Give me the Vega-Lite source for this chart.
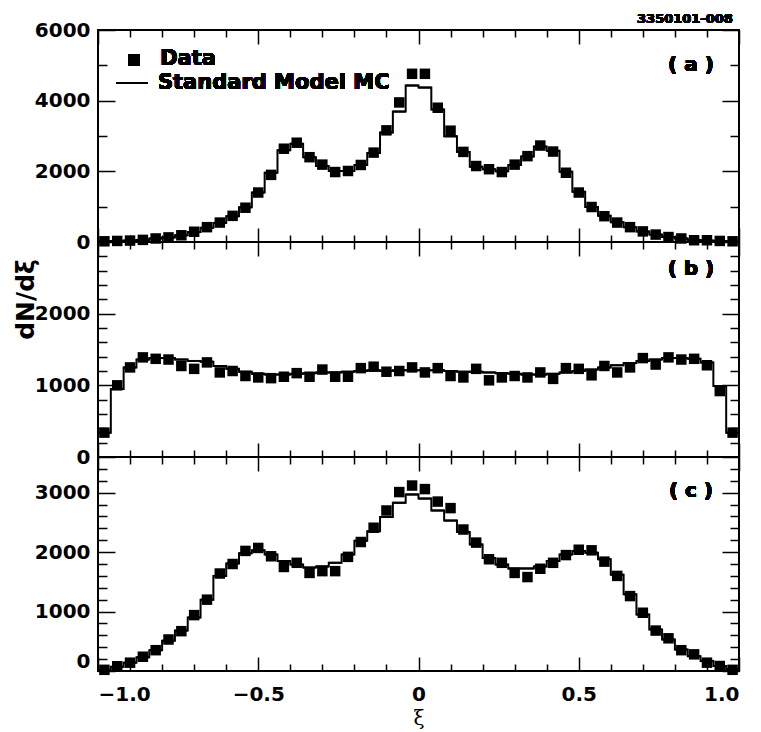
{
  "$schema": "https://vega.github.io/schema/vega-lite/v6.json",
  "padding": {"left": 12, "top": 11, "right": 5, "bottom": 0},
  "background": "white",
  "datasets": {
    "a": [
      {"xi": -0.98, "lo": -1.00, "hi": -0.96, "data": 20, "mc": 20},
      {"xi": -0.94, "lo": -0.96, "hi": -0.92, "data": 30, "mc": 30},
      {"xi": -0.90, "lo": -0.92, "hi": -0.88, "data": 40, "mc": 40},
      {"xi": -0.86, "lo": -0.88, "hi": -0.84, "data": 60, "mc": 60},
      {"xi": -0.82, "lo": -0.84, "hi": -0.80, "data": 100, "mc": 100},
      {"xi": -0.78, "lo": -0.80, "hi": -0.76, "data": 130, "mc": 130},
      {"xi": -0.74, "lo": -0.76, "hi": -0.72, "data": 190, "mc": 190},
      {"xi": -0.70, "lo": -0.72, "hi": -0.68, "data": 290, "mc": 280},
      {"xi": -0.66, "lo": -0.68, "hi": -0.64, "data": 420, "mc": 400},
      {"xi": -0.62, "lo": -0.64, "hi": -0.60, "data": 550, "mc": 540},
      {"xi": -0.58, "lo": -0.60, "hi": -0.56, "data": 740, "mc": 730},
      {"xi": -0.54, "lo": -0.56, "hi": -0.52, "data": 970, "mc": 980},
      {"xi": -0.50, "lo": -0.52, "hi": -0.48, "data": 1400, "mc": 1400},
      {"xi": -0.46, "lo": -0.48, "hi": -0.44, "data": 1900, "mc": 1960},
      {"xi": -0.42, "lo": -0.44, "hi": -0.40, "data": 2640, "mc": 2600},
      {"xi": -0.38, "lo": -0.40, "hi": -0.36, "data": 2810, "mc": 2780},
      {"xi": -0.34, "lo": -0.36, "hi": -0.32, "data": 2400, "mc": 2400},
      {"xi": -0.30, "lo": -0.32, "hi": -0.28, "data": 2190, "mc": 2150},
      {"xi": -0.26, "lo": -0.28, "hi": -0.24, "data": 1980, "mc": 2010},
      {"xi": -0.22, "lo": -0.24, "hi": -0.20, "data": 2010, "mc": 2010},
      {"xi": -0.18, "lo": -0.20, "hi": -0.16, "data": 2180, "mc": 2180},
      {"xi": -0.14, "lo": -0.16, "hi": -0.12, "data": 2530, "mc": 2520},
      {"xi": -0.10, "lo": -0.12, "hi": -0.08, "data": 3160, "mc": 3100},
      {"xi": -0.06, "lo": -0.08, "hi": -0.04, "data": 3950, "mc": 3690},
      {"xi": -0.02, "lo": -0.04, "hi": 0.00, "data": 4760, "mc": 4430},
      {"xi": 0.02, "lo": 0.00, "hi": 0.04, "data": 4760, "mc": 4370},
      {"xi": 0.06, "lo": 0.04, "hi": 0.08, "data": 3800, "mc": 3750},
      {"xi": 0.10, "lo": 0.08, "hi": 0.12, "data": 3150, "mc": 2990},
      {"xi": 0.14, "lo": 0.12, "hi": 0.16, "data": 2550, "mc": 2550},
      {"xi": 0.18, "lo": 0.16, "hi": 0.20, "data": 2150, "mc": 2130},
      {"xi": 0.22, "lo": 0.20, "hi": 0.24, "data": 2060, "mc": 2060},
      {"xi": 0.26, "lo": 0.24, "hi": 0.28, "data": 1980, "mc": 2000},
      {"xi": 0.30, "lo": 0.28, "hi": 0.32, "data": 2190, "mc": 2180},
      {"xi": 0.34, "lo": 0.32, "hi": 0.36, "data": 2430, "mc": 2420},
      {"xi": 0.38, "lo": 0.36, "hi": 0.40, "data": 2730, "mc": 2700},
      {"xi": 0.42, "lo": 0.40, "hi": 0.44, "data": 2560, "mc": 2580},
      {"xi": 0.46, "lo": 0.44, "hi": 0.48, "data": 1960, "mc": 1990},
      {"xi": 0.50, "lo": 0.48, "hi": 0.52, "data": 1400, "mc": 1420},
      {"xi": 0.54, "lo": 0.52, "hi": 0.56, "data": 990, "mc": 990},
      {"xi": 0.58, "lo": 0.56, "hi": 0.60, "data": 730, "mc": 740},
      {"xi": 0.62, "lo": 0.60, "hi": 0.64, "data": 550, "mc": 560},
      {"xi": 0.66, "lo": 0.64, "hi": 0.68, "data": 420, "mc": 420},
      {"xi": 0.70, "lo": 0.68, "hi": 0.72, "data": 300, "mc": 300},
      {"xi": 0.74, "lo": 0.72, "hi": 0.76, "data": 210, "mc": 210},
      {"xi": 0.78, "lo": 0.76, "hi": 0.80, "data": 140, "mc": 140},
      {"xi": 0.82, "lo": 0.80, "hi": 0.84, "data": 100, "mc": 100},
      {"xi": 0.86, "lo": 0.84, "hi": 0.88, "data": 50, "mc": 60},
      {"xi": 0.90, "lo": 0.88, "hi": 0.92, "data": 50, "mc": 40},
      {"xi": 0.94, "lo": 0.92, "hi": 0.96, "data": 30, "mc": 30},
      {"xi": 0.98, "lo": 0.96, "hi": 1.00, "data": 20, "mc": 20}
    ],
    "b": [
      {"xi": -0.98, "lo": -1.00, "hi": -0.96, "data": 340, "mc": 340},
      {"xi": -0.94, "lo": -0.96, "hi": -0.92, "data": 1000, "mc": 950},
      {"xi": -0.90, "lo": -0.92, "hi": -0.88, "data": 1250, "mc": 1250},
      {"xi": -0.86, "lo": -0.88, "hi": -0.84, "data": 1390, "mc": 1360},
      {"xi": -0.82, "lo": -0.84, "hi": -0.80, "data": 1370, "mc": 1380},
      {"xi": -0.78, "lo": -0.80, "hi": -0.76, "data": 1360, "mc": 1380},
      {"xi": -0.74, "lo": -0.76, "hi": -0.72, "data": 1270, "mc": 1360},
      {"xi": -0.70, "lo": -0.72, "hi": -0.68, "data": 1230, "mc": 1340},
      {"xi": -0.66, "lo": -0.68, "hi": -0.64, "data": 1320, "mc": 1330},
      {"xi": -0.62, "lo": -0.64, "hi": -0.60, "data": 1180, "mc": 1270},
      {"xi": -0.58, "lo": -0.60, "hi": -0.56, "data": 1200, "mc": 1230},
      {"xi": -0.54, "lo": -0.56, "hi": -0.52, "data": 1130, "mc": 1190},
      {"xi": -0.50, "lo": -0.52, "hi": -0.48, "data": 1110, "mc": 1160},
      {"xi": -0.46, "lo": -0.48, "hi": -0.44, "data": 1100, "mc": 1150},
      {"xi": -0.42, "lo": -0.44, "hi": -0.40, "data": 1120, "mc": 1150},
      {"xi": -0.38, "lo": -0.40, "hi": -0.36, "data": 1170, "mc": 1160},
      {"xi": -0.34, "lo": -0.36, "hi": -0.32, "data": 1120, "mc": 1170},
      {"xi": -0.30, "lo": -0.32, "hi": -0.28, "data": 1220, "mc": 1180},
      {"xi": -0.26, "lo": -0.28, "hi": -0.24, "data": 1120, "mc": 1180},
      {"xi": -0.22, "lo": -0.24, "hi": -0.20, "data": 1120, "mc": 1190},
      {"xi": -0.18, "lo": -0.20, "hi": -0.16, "data": 1240, "mc": 1200},
      {"xi": -0.14, "lo": -0.16, "hi": -0.12, "data": 1260, "mc": 1210},
      {"xi": -0.10, "lo": -0.12, "hi": -0.08, "data": 1190, "mc": 1200},
      {"xi": -0.06, "lo": -0.08, "hi": -0.04, "data": 1200, "mc": 1210},
      {"xi": -0.02, "lo": -0.04, "hi": 0.00, "data": 1250, "mc": 1210},
      {"xi": 0.02, "lo": 0.00, "hi": 0.04, "data": 1180, "mc": 1210},
      {"xi": 0.06, "lo": 0.04, "hi": 0.08, "data": 1240, "mc": 1210},
      {"xi": 0.10, "lo": 0.08, "hi": 0.12, "data": 1130, "mc": 1200},
      {"xi": 0.14, "lo": 0.12, "hi": 0.16, "data": 1110, "mc": 1190},
      {"xi": 0.18, "lo": 0.16, "hi": 0.20, "data": 1230, "mc": 1190},
      {"xi": 0.22, "lo": 0.20, "hi": 0.24, "data": 1070, "mc": 1180},
      {"xi": 0.26, "lo": 0.24, "hi": 0.28, "data": 1110, "mc": 1170},
      {"xi": 0.30, "lo": 0.28, "hi": 0.32, "data": 1130, "mc": 1160},
      {"xi": 0.34, "lo": 0.32, "hi": 0.36, "data": 1110, "mc": 1150},
      {"xi": 0.38, "lo": 0.36, "hi": 0.40, "data": 1180, "mc": 1150},
      {"xi": 0.42, "lo": 0.40, "hi": 0.44, "data": 1090, "mc": 1160},
      {"xi": 0.46, "lo": 0.44, "hi": 0.48, "data": 1240, "mc": 1180},
      {"xi": 0.50, "lo": 0.48, "hi": 0.52, "data": 1230, "mc": 1200},
      {"xi": 0.54, "lo": 0.52, "hi": 0.56, "data": 1140, "mc": 1220},
      {"xi": 0.58, "lo": 0.56, "hi": 0.60, "data": 1270, "mc": 1250},
      {"xi": 0.62, "lo": 0.60, "hi": 0.64, "data": 1180, "mc": 1280},
      {"xi": 0.66, "lo": 0.64, "hi": 0.68, "data": 1250, "mc": 1310},
      {"xi": 0.70, "lo": 0.68, "hi": 0.72, "data": 1380, "mc": 1340},
      {"xi": 0.74, "lo": 0.72, "hi": 0.76, "data": 1290, "mc": 1360},
      {"xi": 0.78, "lo": 0.76, "hi": 0.80, "data": 1390, "mc": 1380},
      {"xi": 0.82, "lo": 0.80, "hi": 0.84, "data": 1360, "mc": 1380},
      {"xi": 0.86, "lo": 0.84, "hi": 0.88, "data": 1370, "mc": 1370},
      {"xi": 0.90, "lo": 0.88, "hi": 0.92, "data": 1280, "mc": 1320},
      {"xi": 0.94, "lo": 0.92, "hi": 0.96, "data": 920, "mc": 990},
      {"xi": 0.98, "lo": 0.96, "hi": 1.00, "data": 340, "mc": 340}
    ],
    "c": [
      {"xi": -0.98, "lo": -1.00, "hi": -0.96, "data": 20, "mc": 20},
      {"xi": -0.94, "lo": -0.96, "hi": -0.92, "data": 80, "mc": 70},
      {"xi": -0.90, "lo": -0.92, "hi": -0.88, "data": 140, "mc": 140},
      {"xi": -0.86, "lo": -0.88, "hi": -0.84, "data": 240, "mc": 230},
      {"xi": -0.82, "lo": -0.84, "hi": -0.80, "data": 350, "mc": 350},
      {"xi": -0.78, "lo": -0.80, "hi": -0.76, "data": 530, "mc": 510},
      {"xi": -0.74, "lo": -0.76, "hi": -0.72, "data": 670, "mc": 680},
      {"xi": -0.70, "lo": -0.72, "hi": -0.68, "data": 940, "mc": 900},
      {"xi": -0.66, "lo": -0.68, "hi": -0.64, "data": 1200, "mc": 1200},
      {"xi": -0.62, "lo": -0.64, "hi": -0.60, "data": 1640, "mc": 1600},
      {"xi": -0.58, "lo": -0.60, "hi": -0.56, "data": 1800, "mc": 1810},
      {"xi": -0.54, "lo": -0.56, "hi": -0.52, "data": 2020, "mc": 1980},
      {"xi": -0.50, "lo": -0.52, "hi": -0.48, "data": 2070, "mc": 2030},
      {"xi": -0.46, "lo": -0.48, "hi": -0.44, "data": 1930, "mc": 1960},
      {"xi": -0.42, "lo": -0.44, "hi": -0.40, "data": 1750, "mc": 1850},
      {"xi": -0.38, "lo": -0.40, "hi": -0.36, "data": 1820, "mc": 1790},
      {"xi": -0.34, "lo": -0.36, "hi": -0.32, "data": 1650, "mc": 1740},
      {"xi": -0.30, "lo": -0.32, "hi": -0.28, "data": 1680, "mc": 1760},
      {"xi": -0.26, "lo": -0.28, "hi": -0.24, "data": 1680, "mc": 1820},
      {"xi": -0.22, "lo": -0.24, "hi": -0.20, "data": 1920, "mc": 1960},
      {"xi": -0.18, "lo": -0.20, "hi": -0.16, "data": 2170, "mc": 2190},
      {"xi": -0.14, "lo": -0.16, "hi": -0.12, "data": 2410, "mc": 2350},
      {"xi": -0.10, "lo": -0.12, "hi": -0.08, "data": 2700, "mc": 2590},
      {"xi": -0.06, "lo": -0.08, "hi": -0.04, "data": 3010, "mc": 2830},
      {"xi": -0.02, "lo": -0.04, "hi": 0.00, "data": 3120, "mc": 2970},
      {"xi": 0.02, "lo": 0.00, "hi": 0.04, "data": 3060, "mc": 2900},
      {"xi": 0.06, "lo": 0.04, "hi": 0.08, "data": 2850, "mc": 2700},
      {"xi": 0.10, "lo": 0.08, "hi": 0.12, "data": 2740, "mc": 2530},
      {"xi": 0.14, "lo": 0.12, "hi": 0.16, "data": 2380, "mc": 2340},
      {"xi": 0.18, "lo": 0.16, "hi": 0.20, "data": 2160, "mc": 2130},
      {"xi": 0.22, "lo": 0.20, "hi": 0.24, "data": 1880, "mc": 1900},
      {"xi": 0.26, "lo": 0.24, "hi": 0.28, "data": 1820, "mc": 1790},
      {"xi": 0.30, "lo": 0.28, "hi": 0.32, "data": 1650, "mc": 1725},
      {"xi": 0.34, "lo": 0.32, "hi": 0.36, "data": 1580, "mc": 1725},
      {"xi": 0.38, "lo": 0.36, "hi": 0.40, "data": 1720, "mc": 1760},
      {"xi": 0.42, "lo": 0.40, "hi": 0.44, "data": 1820, "mc": 1850},
      {"xi": 0.46, "lo": 0.44, "hi": 0.48, "data": 1950, "mc": 1960},
      {"xi": 0.50, "lo": 0.48, "hi": 0.52, "data": 2040, "mc": 2020},
      {"xi": 0.54, "lo": 0.52, "hi": 0.56, "data": 2030, "mc": 1990},
      {"xi": 0.58, "lo": 0.56, "hi": 0.60, "data": 1840, "mc": 1880},
      {"xi": 0.62, "lo": 0.60, "hi": 0.64, "data": 1600, "mc": 1620},
      {"xi": 0.66, "lo": 0.64, "hi": 0.68, "data": 1260, "mc": 1290},
      {"xi": 0.70, "lo": 0.68, "hi": 0.72, "data": 980, "mc": 950},
      {"xi": 0.74, "lo": 0.72, "hi": 0.76, "data": 680, "mc": 700},
      {"xi": 0.78, "lo": 0.76, "hi": 0.80, "data": 550, "mc": 530},
      {"xi": 0.82, "lo": 0.80, "hi": 0.84, "data": 350, "mc": 360},
      {"xi": 0.86, "lo": 0.84, "hi": 0.88, "data": 280, "mc": 250},
      {"xi": 0.90, "lo": 0.88, "hi": 0.92, "data": 140, "mc": 170},
      {"xi": 0.94, "lo": 0.92, "hi": 0.96, "data": 84, "mc": 85},
      {"xi": 0.98, "lo": 0.96, "hi": 1.00, "data": 20, "mc": 30}
    ]
  },
  "vconcat": [
    {
      "width": 641, "height": 212,
      "data": {"name": "a"},
      "layer": [
        {"mark": {"type": "rule", "color": "black", "strokeWidth": 2},
         "encoding": {
           "x": {"field": "lo", "type": "quantitative", "scale": {"domain": [-1, 1], "nice": false, "zero": false},
                 "axis": {"orient": "bottom", "values": [-1, -0.5, 0, 0.5, 1], "tickSize": -14, "labels": false, "title": null}},
           "x2": {"field": "hi"},
           "y": {"field": "mc", "type": "quantitative", "scale": {"domain": [0, 6000], "nice": false},
                 "axis": {"orient": "left", "values": [0, 2000, 4000, 6000], "tickSize": -17, "labelPadding": 25, "format": "d", "title": null}}}},
        {"mark": {"type": "line", "interpolate": "step", "color": "black", "strokeWidth": 2},
         "encoding": {
           "x": {"field": "xi", "type": "quantitative", "scale": {"domain": [-1, 1], "nice": false, "zero": false},
                 "axis": {"orient": "bottom", "values": [-0.9, -0.8, -0.7, -0.6, -0.4, -0.3, -0.2, -0.1, 0.1, 0.2, 0.3, 0.4, 0.6, 0.7, 0.8, 0.9], "tickSize": -7, "labels": false, "title": null}},
           "y": {"field": "mc", "type": "quantitative",
                 "axis": {"orient": "left", "values": [1000, 3000, 5000], "tickSize": -9, "labels": false, "title": null}}}},
        {"mark": {"type": "point", "shape": "square", "filled": true, "color": "black", "size": 110, "opacity": 1},
         "encoding": {
           "x": {"field": "xi", "type": "quantitative",
                 "axis": {"orient": "top", "values": [-1, -0.5, 0, 0.5, 1], "tickSize": -14, "labels": false, "title": null}},
           "y": {"field": "data", "type": "quantitative",
                 "axis": {"orient": "right", "values": [0, 2000, 4000, 6000], "tickSize": -17, "labels": false, "title": null}}}},
        {"mark": {"type": "point", "opacity": 0},
         "encoding": {
           "x": {"field": "xi", "type": "quantitative",
                 "axis": {"orient": "top", "values": [-0.9, -0.8, -0.7, -0.6, -0.4, -0.3, -0.2, -0.1, 0.1, 0.2, 0.3, 0.4, 0.6, 0.7, 0.8, 0.9], "tickSize": -7, "labels": false, "title": null}},
           "y": {"field": "data", "type": "quantitative",
                 "axis": {"orient": "right", "values": [1000, 3000, 5000], "tickSize": -9, "labels": false, "title": null}}}},
        {"mark": {"type": "text", "text": "( a )", "fontSize": 20, "fontWeight": "bold", "font": "DejaVu Sans", "color": "black", "align": "center", "baseline": "middle"},
         "encoding": {"x": {"datum": 0.85, "type": "quantitative", "axis": null}, "y": {"datum": 5020, "type": "quantitative", "axis": null}}},
        {"mark": {"type": "text", "text": "3350101-008", "fontSize": 13, "fontWeight": "bold", "font": "DejaVu Sans", "color": "black", "align": "right", "baseline": "middle", "clip": false},
         "encoding": {"x": {"datum": 0.981, "type": "quantitative", "axis": null}, "y": {"datum": 6325, "type": "quantitative", "axis": null}}},
        {"mark": {"type": "point", "shape": "square", "filled": true, "color": "black", "size": 130, "opacity": 1},
         "encoding": {"x": {"datum": -0.888, "type": "quantitative", "axis": null}, "y": {"datum": 5150, "type": "quantitative", "axis": null}}},
        {"mark": {"type": "rule", "color": "black", "strokeWidth": 2},
         "encoding": {"x": {"datum": -0.941, "type": "quantitative", "axis": null}, "x2": {"datum": -0.844}, "y": {"datum": 4500, "type": "quantitative", "axis": null}}},
        {"mark": {"type": "text", "text": "Data", "fontSize": 21, "fontWeight": "bold", "font": "DejaVu Sans", "color": "black", "align": "left", "baseline": "middle"},
         "encoding": {"x": {"datum": -0.806, "type": "quantitative", "axis": null}, "y": {"datum": 5190, "type": "quantitative", "axis": null}}},
        {"mark": {"type": "text", "text": "Standard Model MC", "fontSize": 21, "fontWeight": "bold", "font": "DejaVu Sans", "color": "black", "align": "left", "baseline": "middle"},
         "encoding": {"x": {"datum": -0.813, "type": "quantitative", "axis": null}, "y": {"datum": 4510, "type": "quantitative", "axis": null}}}
      ],
      "resolve": {"axis": {"x": "independent", "y": "independent"}}
    },
    {
      "width": 641, "height": 215,
      "data": {"name": "b"},
      "layer": [
        {"mark": {"type": "rule", "color": "black", "strokeWidth": 2},
         "encoding": {
           "x": {"field": "lo", "type": "quantitative", "scale": {"domain": [-1, 1], "nice": false, "zero": false},
                 "axis": {"orient": "bottom", "values": [-1, -0.5, 0, 0.5, 1], "tickSize": -14, "labels": false, "title": null}},
           "x2": {"field": "hi"},
           "y": {"field": "mc", "type": "quantitative", "scale": {"domain": [0, 3000], "nice": false},
                 "axis": {"orient": "left", "values": [0, 1000, 2000], "tickSize": -17, "labelPadding": 25, "format": "d",
                          "title": "dN/dξ", "titleFontSize": 25, "titleFontWeight": "bold", "titleAngle": -90, "titleX": -73, "titleY": 57, "titleAlign": "center", "titleBaseline": "middle"}}}},
        {"mark": {"type": "line", "interpolate": "step", "color": "black", "strokeWidth": 2},
         "encoding": {
           "x": {"field": "xi", "type": "quantitative", "scale": {"domain": [-1, 1], "nice": false, "zero": false},
                 "axis": {"orient": "bottom", "values": [-0.9, -0.8, -0.7, -0.6, -0.4, -0.3, -0.2, -0.1, 0.1, 0.2, 0.3, 0.4, 0.6, 0.7, 0.8, 0.9], "tickSize": -7, "labels": false, "title": null}},
           "y": {"field": "mc", "type": "quantitative",
                 "axis": {"orient": "left", "values": [200, 400, 600, 800, 1200, 1400, 1600, 1800, 2200, 2400, 2600, 2800], "tickSize": -9, "labels": false, "title": null}}}},
        {"mark": {"type": "point", "shape": "square", "filled": true, "color": "black", "size": 110, "opacity": 1},
         "encoding": {
           "x": {"field": "xi", "type": "quantitative",
                 "axis": {"orient": "top", "values": [-1, -0.5, 0, 0.5, 1], "tickSize": -14, "labels": false, "title": null}},
           "y": {"field": "data", "type": "quantitative",
                 "axis": {"orient": "right", "values": [0, 1000, 2000], "tickSize": -17, "labels": false, "title": null}}}},
        {"mark": {"type": "point", "opacity": 0},
         "encoding": {
           "x": {"field": "xi", "type": "quantitative",
                 "axis": {"orient": "top", "values": [-0.9, -0.8, -0.7, -0.6, -0.4, -0.3, -0.2, -0.1, 0.1, 0.2, 0.3, 0.4, 0.6, 0.7, 0.8, 0.9], "tickSize": -7, "labels": false, "title": null}},
           "y": {"field": "data", "type": "quantitative",
                 "axis": {"orient": "right", "values": [200, 400, 600, 800, 1200, 1400, 1600, 1800, 2200, 2400, 2600, 2800], "tickSize": -9, "labels": false, "title": null}}}},
        {"mark": {"type": "text", "text": "( b )", "fontSize": 20, "fontWeight": "bold", "font": "DejaVu Sans", "color": "black", "align": "center", "baseline": "middle"},
         "encoding": {"x": {"datum": 0.85, "type": "quantitative", "axis": null}, "y": {"datum": 2620, "type": "quantitative", "axis": null}}}
      ],
      "resolve": {"axis": {"x": "independent", "y": "independent"}}
    },
    {
      "width": 641, "height": 214,
      "data": {"name": "c"},
      "layer": [
        {"mark": {"type": "rule", "color": "black", "strokeWidth": 2},
         "encoding": {
           "x": {"field": "lo", "type": "quantitative", "scale": {"domain": [-1, 1], "nice": false, "zero": false},
                 "axis": {"orient": "bottom", "values": [-1, -0.5, 0, 0.5, 1], "tickSize": -14, "labelPadding": 27,
                          "labelExpr": "datum.value == 0 ? '0' : replace(format(datum.value, '.1f'), '-', '\u2212')",
                          "title": "ξ", "titleFont": "DejaVu Serif", "titleFontWeight": "normal", "titleFontSize": 20, "titlePadding": 4}},
           "x2": {"field": "hi"},
           "y": {"field": "mc", "type": "quantitative", "scale": {"domain": [0, 3600], "nice": false},
                 "axis": {"orient": "left", "values": [0, 1000, 2000, 3000], "tickSize": -17, "labelPadding": 25, "format": "d", "title": null,
                          "labelBaseline": {"condition": {"test": "datum.value == 0", "value": "bottom"}, "value": "middle"}}}}},
        {"mark": {"type": "line", "interpolate": "step", "color": "black", "strokeWidth": 2},
         "encoding": {
           "x": {"field": "xi", "type": "quantitative", "scale": {"domain": [-1, 1], "nice": false, "zero": false},
                 "axis": {"orient": "bottom", "values": [-0.9, -0.8, -0.7, -0.6, -0.4, -0.3, -0.2, -0.1, 0.1, 0.2, 0.3, 0.4, 0.6, 0.7, 0.8, 0.9], "tickSize": -7, "labels": false, "title": null}},
           "y": {"field": "mc", "type": "quantitative",
                 "axis": {"orient": "left", "values": [200, 400, 600, 800, 1200, 1400, 1600, 1800, 2200, 2400, 2600, 2800, 3200, 3400], "tickSize": -9, "labels": false, "title": null}}}},
        {"mark": {"type": "point", "shape": "square", "filled": true, "color": "black", "size": 110, "opacity": 1},
         "encoding": {
           "x": {"field": "xi", "type": "quantitative",
                 "axis": {"orient": "top", "values": [-1, -0.5, 0, 0.5, 1], "tickSize": -14, "labels": false, "title": null}},
           "y": {"field": "data", "type": "quantitative",
                 "axis": {"orient": "right", "values": [0, 1000, 2000, 3000], "tickSize": -17, "labels": false, "title": null}}}},
        {"mark": {"type": "point", "opacity": 0},
         "encoding": {
           "x": {"field": "xi", "type": "quantitative",
                 "axis": {"orient": "top", "values": [-0.9, -0.8, -0.7, -0.6, -0.4, -0.3, -0.2, -0.1, 0.1, 0.2, 0.3, 0.4, 0.6, 0.7, 0.8, 0.9], "tickSize": -7, "labels": false, "title": null}},
           "y": {"field": "data", "type": "quantitative",
                 "axis": {"orient": "right", "values": [200, 400, 600, 800, 1200, 1400, 1600, 1800, 2200, 2400, 2600, 2800, 3200, 3400], "tickSize": -9, "labels": false, "title": null}}}},
        {"mark": {"type": "text", "text": "( c )", "fontSize": 20, "fontWeight": "bold", "font": "DejaVu Sans", "color": "black", "align": "center", "baseline": "middle"},
         "encoding": {"x": {"datum": 0.85, "type": "quantitative", "axis": null}, "y": {"datum": 3030, "type": "quantitative", "axis": null}}}
      ],
      "resolve": {"axis": {"x": "independent", "y": "independent"}}
    }
  ],
  "spacing": 0,
  "bounds": "flush",
  "config": {
    "view": {"stroke": "black", "strokeWidth": 2},
    "axis": {"domain": false, "grid": false, "tickColor": "black", "tickWidth": 1.5,
             "labelFont": "DejaVu Sans", "labelFontWeight": "bold", "labelFontSize": 20, "labelColor": "black",
             "titleFont": "DejaVu Sans", "titleColor": "black"}
  }
}
